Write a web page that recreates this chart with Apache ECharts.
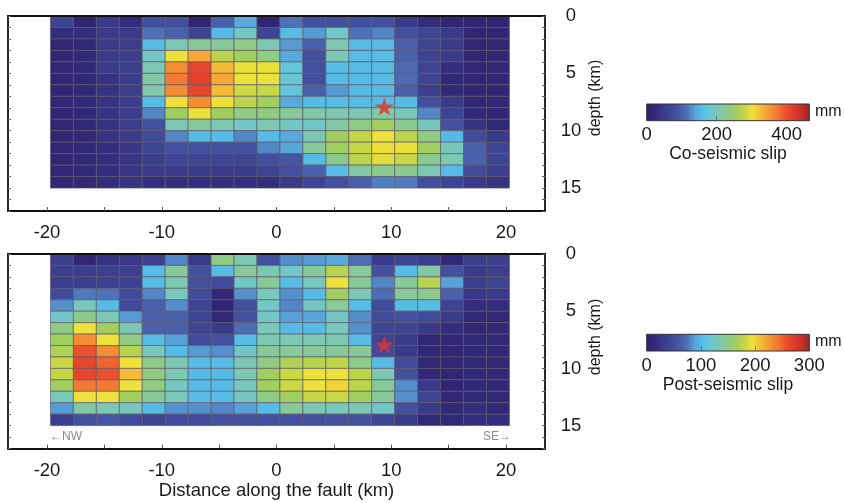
<!DOCTYPE html>
<html>
<head>
<meta charset="utf-8">
<script src="https://cdn.jsdelivr.net/npm/echarts@6/dist/echarts.min.js"></script>
<style>
  html, body { margin: 0; padding: 0; background: #ffffff; }
  #chart { width: 844px; height: 503px; }
</style>
</head>
<body>
<div id="chart"></div>
<script>
// Fault patches: left edge along strike (km) and top depth (km)
const patchLeftKm = [-19.7, -17.7, -15.7, -13.7, -11.7, -9.7, -7.7, -5.7, -3.7, -1.7,
                     0.3, 2.3, 4.3, 6.3, 8.3, 10.3, 12.3, 14.3, 16.3, 18.3];
const patchTopKm = [0, 1, 2, 3, 4, 5, 6, 7, 8, 9, 10, 11, 12, 13, 14];
const patchWidthKm = 2;
const patchHeightKm = 1;

// Co-seismic slip (mm), one row per depth
const coSlip = [
  [65, 9, 47, 28, 84, 84, 9, 102, 144, 9, 116, 84, 84, 84, 84, 47, 28, 9, 9, 9],
  [28, 28, 47, 47, 116, 102, 65, 158, 191, 65, 158, 135, 191, 116, 126, 84, 65, 47, 9, 9],
  [9, 19, 47, 53, 158, 205, 223, 223, 237, 205, 135, 102, 205, 158, 158, 102, 65, 47, 9, 9],
  [9, 19, 47, 53, 191, 300, 339, 274, 256, 237, 144, 84, 205, 158, 158, 102, 65, 47, 9, 9],
  [9, 19, 47, 53, 205, 358, 409, 326, 300, 300, 175, 84, 158, 158, 158, 109, 65, 28, 9, 9],
  [9, 19, 37, 53, 212, 372, 415, 339, 300, 300, 180, 84, 158, 158, 158, 109, 65, 19, 9, 9],
  [9, 19, 37, 53, 212, 358, 409, 326, 286, 281, 175, 102, 135, 158, 158, 102, 56, 19, 9, 9],
  [9, 19, 37, 53, 158, 300, 358, 300, 274, 256, 144, 158, 158, 158, 158, 158, 84, 47, 9, 9],
  [9, 19, 37, 53, 126, 256, 300, 256, 237, 237, 223, 214, 205, 205, 214, 198, 126, 65, 19, 9],
  [9, 19, 37, 53, 84, 205, 223, 205, 191, 205, 191, 191, 214, 237, 256, 230, 198, 84, 37, 19],
  [9, 19, 37, 47, 77, 126, 158, 158, 126, 158, 144, 205, 256, 279, 300, 274, 237, 158, 77, 47],
  [9, 19, 28, 40, 65, 84, 84, 84, 84, 126, 140, 223, 256, 281, 300, 300, 256, 198, 102, 65],
  [9, 19, 28, 40, 53, 65, 65, 65, 65, 84, 91, 158, 230, 274, 295, 281, 230, 205, 102, 65],
  [9, 19, 28, 40, 47, 47, 47, 47, 47, 65, 84, 102, 158, 214, 230, 230, 205, 158, 77, 56],
  [9, 19, 28, 40, 28, 28, 28, 28, 28, 28, 47, 65, 84, 102, 123, 121, 84, 65, 47, 37]
];

// Post-seismic slip (mm), one row per depth
const postSlip = [
  [35, 6, 24, 27, 38, 81, 30, 153, 132, 54, 83, 87, 93, 72, 30, 42, 35, 12, 35, 35],
  [35, 35, 38, 35, 102, 144, 54, 102, 144, 132, 123, 144, 175, 144, 54, 102, 138, 54, 30, 35],
  [35, 35, 38, 40, 102, 132, 54, 50, 123, 144, 102, 128, 194, 144, 81, 144, 175, 89, 35, 42],
  [50, 77, 75, 50, 81, 128, 50, 12, 84, 128, 84, 102, 165, 132, 72, 144, 150, 66, 27, 30],
  [84, 128, 102, 50, 66, 83, 42, 6, 54, 123, 81, 123, 144, 102, 50, 102, 102, 42, 18, 18],
  [123, 150, 132, 87, 66, 66, 42, 12, 54, 123, 89, 91, 123, 83, 50, 54, 50, 30, 12, 12],
  [153, 194, 165, 132, 66, 66, 42, 30, 72, 128, 102, 102, 128, 84, 42, 42, 30, 18, 6, 12],
  [165, 231, 194, 153, 102, 89, 50, 54, 102, 132, 132, 132, 132, 102, 42, 30, 6, 6, 12, 12],
  [171, 257, 231, 175, 128, 102, 87, 84, 123, 144, 144, 144, 144, 144, 50, 30, 10, 6, 12, 12],
  [182, 264, 249, 194, 150, 132, 102, 102, 132, 153, 171, 175, 177, 150, 102, 50, 12, 6, 12, 12],
  [180, 264, 257, 210, 153, 132, 102, 102, 132, 165, 182, 194, 194, 177, 132, 54, 12, 6, 12, 12],
  [165, 240, 240, 194, 153, 126, 102, 102, 128, 165, 182, 194, 201, 177, 144, 83, 30, 6, 12, 12],
  [128, 194, 194, 165, 144, 128, 102, 102, 126, 153, 165, 180, 182, 165, 144, 84, 42, 10, 12, 12],
  [87, 138, 132, 128, 102, 85, 84, 81, 89, 102, 144, 132, 128, 132, 123, 54, 30, 12, 18, 12],
  [35, 54, 60, 50, 42, 50, 50, 54, 54, 54, 54, 54, 54, 54, 42, 30, 12, 12, 18, 18]
];

// Hypocenter: [distance along fault (km), depth (km)]
const hypocenter = [[9.4, 7.9]];

// Axis ticks
const distanceLabels = [-20, -10, 0, 10, 20];
const distanceTicks = [-20, -15, -10, -5, 0, 5, 10, 15, 20];
const depthLabels = [0, 5, 10, 15];
const depthTicks = [0, 1, 2, 3, 4, 5, 6, 7, 8, 9, 10, 11, 12, 13, 14, 15, 16, 17];
const coSlipLabels = [0, 200, 400];
const postSlipLabels = [0, 100, 200, 300];
const coSlipMax = 465;
const postSlipMax = 300;

// Colour map (evenly spaced stops)
const slipPalette = [
  '#2f2470', '#33297a', '#3a3a8a', '#3f4696', '#4656a4', '#4e72b8', '#58a4da',
  '#56c2e8', '#6ec7cc', '#80c8ac', '#8bca8a', '#a0cf60', '#c4d646', '#f0e23a',
  '#f6bc36', '#f59a34', '#f27a33', '#ec552e', '#e43a2b', '#c8302a', '#8e2a22'
];

const FONT = '"Liberation Sans", Arial, Helvetica, sans-serif';
const TEXT = '#1a1a1a';

function buildCells(matrix) {
  const cells = [];
  patchTopKm.forEach((d, r) => {
    patchLeftKm.forEach((x, c) => {
      cells.push([x, d, matrix[r][c]]);
    });
  });
  return cells;
}

function renderPatch(params, api) {
  const x0 = api.value(0);
  const d0 = api.value(1);
  const a = api.coord([x0, d0]);
  const b = api.coord([x0 + patchWidthKm, d0 + patchHeightKm]);
  return {
    type: 'rect',
    shape: { x: a[0], y: a[1], width: b[0] - a[0], height: b[1] - a[1] },
    style: { fill: api.visual('color'), stroke: 'rgba(92,88,104,0.85)', lineWidth: 0.8 }
  };
}

function renderColorbar(params, api) {
  const a = api.coord([api.value(0), 1]);
  const b = api.coord([api.value(1), 0]);
  return {
    type: 'rect',
    shape: { x: a[0], y: a[1], width: b[0] - a[0], height: b[1] - a[1] },
    style: {
      fill: new echarts.graphic.LinearGradient(0, 0, 1, 0,
        slipPalette.map((c, i) => ({ offset: i / (slipPalette.length - 1), color: c }))),
      stroke: '#333333',
      lineWidth: 1
    }
  };
}

const frameLine = { show: true, onZero: false, lineStyle: { color: '#111111', width: 1.8 } };

function distanceAxis(gridIndex, withName) {
  return {
    type: 'value', gridIndex: gridIndex, position: 'bottom',
    min: -23.4, max: 23.4, z: 6,
    axisLine: frameLine,
    axisTick: { show: true, inside: true, length: 4, customValues: distanceTicks,
                lineStyle: { color: '#555555', width: 1 } },
    axisLabel: { customValues: distanceLabels, margin: withName ? 13 : 12,
                 color: TEXT, fontSize: 18.5, fontFamily: FONT },
    splitLine: { show: false },
    name: withName ? 'Distance along the fault (km)' : '',
    nameLocation: 'middle', nameGap: 33,
    nameTextStyle: { color: TEXT, fontSize: 18.5, fontFamily: FONT }
  };
}

function topFrameAxis(gridIndex) {
  return {
    type: 'value', gridIndex: gridIndex, position: 'top',
    min: -23.4, max: 23.4, z: 6,
    axisLine: frameLine, axisTick: { show: false }, axisLabel: { show: false },
    splitLine: { show: false }
  };
}

function depthAxis(gridIndex, side) {
  const right = side === 'right';
  return {
    type: 'value', gridIndex: gridIndex, position: side, inverse: true,
    min: 0, max: 17, z: 6,
    axisLine: frameLine,
    axisTick: { show: true, inside: true, length: 3, customValues: depthTicks,
                lineStyle: { color: '#666666', width: 1 } },
    axisLabel: right
      ? { customValues: depthLabels, margin: 26, align: 'center',
          color: TEXT, fontSize: 18.5, fontFamily: FONT }
      : { show: false },
    splitLine: { show: false }
  };
}

function colorbarXAxis(gridIndex, max, labels, title) {
  return {
    type: 'value', gridIndex: gridIndex, min: 0, max: max, position: 'bottom', z: 6,
    axisLine: { show: false, onZero: false },
    axisTick: { show: true, inside: true, length: 5, customValues: labels.slice(1, -1),
                lineStyle: { color: 'rgba(60,60,60,0.55)', width: 1 } },
    axisLabel: { customValues: labels, margin: 5, color: TEXT, fontSize: 18.5, fontFamily: FONT },
    splitLine: { show: false },
    name: title, nameLocation: 'middle', nameGap: 24,
    nameTextStyle: { color: TEXT, fontSize: 17.5, fontFamily: FONT }
  };
}

function colorbarYAxis(gridIndex) {
  return {
    type: 'value', gridIndex: gridIndex, min: 0, max: 1, show: false,
    axisLine: { onZero: false }
  };
}

const starPath = 'path://M50,0 L61,35 L98,35 L68,57 L79,91 L50,70 L21,91 L32,57 L2,35 L39,35 Z';

const option = {
  backgroundColor: '#ffffff',
  animation: false,
  grid: [
    { left: 8, top: 16, width: 537, height: 195, outerBoundsMode: 'none' },
    { left: 8, top: 254, width: 537, height: 194.5, outerBoundsMode: 'none' },
    { left: 646.7, top: 104, width: 162.6, height: 16.7, outerBoundsMode: 'none' },
    { left: 646.7, top: 334.3, width: 162.6, height: 16.7, outerBoundsMode: 'none' }
  ],
  xAxis: [
    distanceAxis(0, false),
    topFrameAxis(0),
    distanceAxis(1, true),
    topFrameAxis(1),
    colorbarXAxis(2, coSlipMax, coSlipLabels, 'Co-seismic slip'),
    colorbarXAxis(3, postSlipMax, postSlipLabels, 'Post-seismic slip')
  ],
  yAxis: [
    depthAxis(0, 'right'),
    depthAxis(0, 'left'),
    depthAxis(1, 'right'),
    depthAxis(1, 'left'),
    colorbarYAxis(2),
    colorbarYAxis(3)
  ],
  visualMap: [
    { type: 'continuous', show: false, min: 0, max: coSlipMax, dimension: 2,
      seriesIndex: 0, inRange: { color: slipPalette } },
    { type: 'continuous', show: false, min: 0, max: postSlipMax, dimension: 2,
      seriesIndex: 1, inRange: { color: slipPalette } }
  ],
  series: [
    { type: 'custom', name: 'Co-seismic slip', xAxisIndex: 0, yAxisIndex: 0,
      encode: { x: 0, y: 1 }, data: buildCells(coSlip), renderItem: renderPatch, z: 2 },
    { type: 'custom', name: 'Post-seismic slip', xAxisIndex: 2, yAxisIndex: 2,
      encode: { x: 0, y: 1 }, data: buildCells(postSlip), renderItem: renderPatch, z: 2 },
    { type: 'scatter', xAxisIndex: 0, yAxisIndex: 0, data: hypocenter,
      symbol: starPath, symbolSize: [19, 18], itemStyle: { color: '#ec2f28' }, z: 4 },
    { type: 'scatter', xAxisIndex: 2, yAxisIndex: 2, data: hypocenter,
      symbol: starPath, symbolSize: [19, 18], itemStyle: { color: '#ec2f28' }, z: 4 },
    { type: 'custom', xAxisIndex: 4, yAxisIndex: 4, data: [[0, coSlipMax]],
      encode: { x: [0, 1] }, renderItem: renderColorbar, z: 2 },
    { type: 'custom', xAxisIndex: 5, yAxisIndex: 5, data: [[0, postSlipMax]],
      encode: { x: [0, 1] }, renderItem: renderColorbar, z: 2 }
  ],
  graphic: [
    { type: 'text', x: 596, y: 98, rotation: Math.PI / 2,
      style: { text: 'depth (km)', fill: TEXT, font: '16px ' + FONT,
               align: 'center', verticalAlign: 'middle', textAlign: 'center', textVerticalAlign: 'middle' } },
    { type: 'text', x: 596, y: 337, rotation: Math.PI / 2,
      style: { text: 'depth (km)', fill: TEXT, font: '16px ' + FONT,
               align: 'center', verticalAlign: 'middle', textAlign: 'center', textVerticalAlign: 'middle' } },
    { type: 'text', x: 815, y: 112,
      style: { text: 'mm', fill: TEXT, font: '16px ' + FONT,
               align: 'left', verticalAlign: 'middle', textAlign: 'left', textVerticalAlign: 'middle' } },
    { type: 'text', x: 815, y: 342,
      style: { text: 'mm', fill: TEXT, font: '16px ' + FONT,
               align: 'left', verticalAlign: 'middle', textAlign: 'left', textVerticalAlign: 'middle' } },
    { type: 'text', x: 50, y: 437,
      style: { text: '\u2190NW', fill: '#8a8a8a', font: '12px ' + FONT,
               align: 'left', verticalAlign: 'middle', textAlign: 'left', textVerticalAlign: 'middle' } },
    { type: 'text', x: 511, y: 437,
      style: { text: 'SE\u2192', fill: '#8a8a8a', font: '12px ' + FONT,
               align: 'right', verticalAlign: 'middle', textAlign: 'right', textVerticalAlign: 'middle' } }
  ]
};

const chart = echarts.init(document.getElementById('chart'), null, { renderer: 'canvas' });
chart.setOption(option);
</script>
</body>
</html>
